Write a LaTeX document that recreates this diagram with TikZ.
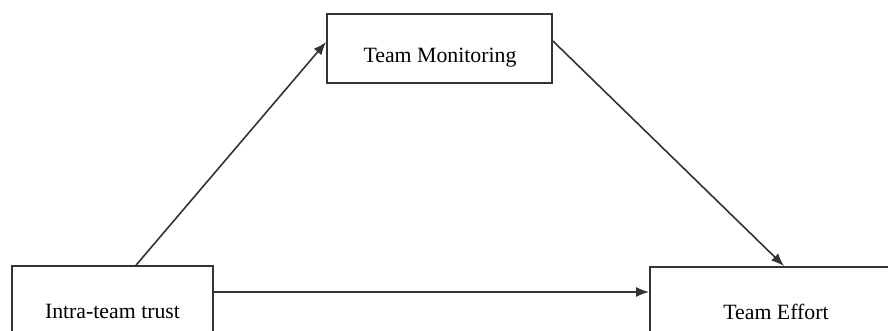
\documentclass[tikz,border=0pt]{standalone}
\usepackage{fontspec}
\setmainfont{Liberation Serif}
\usetikzlibrary{arrows.meta,calc}
\begin{document}
\begin{tikzpicture}[x=0.5pt,y=-0.5pt,
  box/.style={draw=black!80,line width=0.9pt,rectangle,inner sep=0pt},
  lbl/.style={font=\fontsize{10.9}{12}\selectfont,inner sep=0pt},
  arr/.style={draw=black!80,line width=0.8pt,-{Latex[length=6.5pt,width=5pt]}}]
\useasboundingbox (0,0) rectangle (888,331);
\node[box,minimum width=100.5pt,minimum height=44pt] (a) at (112.5,310) {};
\node[lbl] (at) at (112.5,311) {Intra-team trust};
\node[box,minimum width=126pt,minimum height=44pt] (e) at (776,311) {};
\node[lbl] (et) at (776,312) {Team Effort};
\node[box,minimum width=112.5pt,minimum height=34.5pt] (m) at (439.5,48.5) {};
\node[lbl] (mt) at (440,58) {Team Monitoring};
\draw[arr] ($(a.north west)+(125,0)$) -- ($(m.west)+(0,-6.5)$);
\draw[arr] ($(m.east)+(0,-7.5)$) -- ($(e.north west)+(135,0)$);
\coordinate (h) at ($(a.east)+(0,-18)$);
\draw[arr] (h) -- (e.west |- h);
\end{tikzpicture}
\end{document}
